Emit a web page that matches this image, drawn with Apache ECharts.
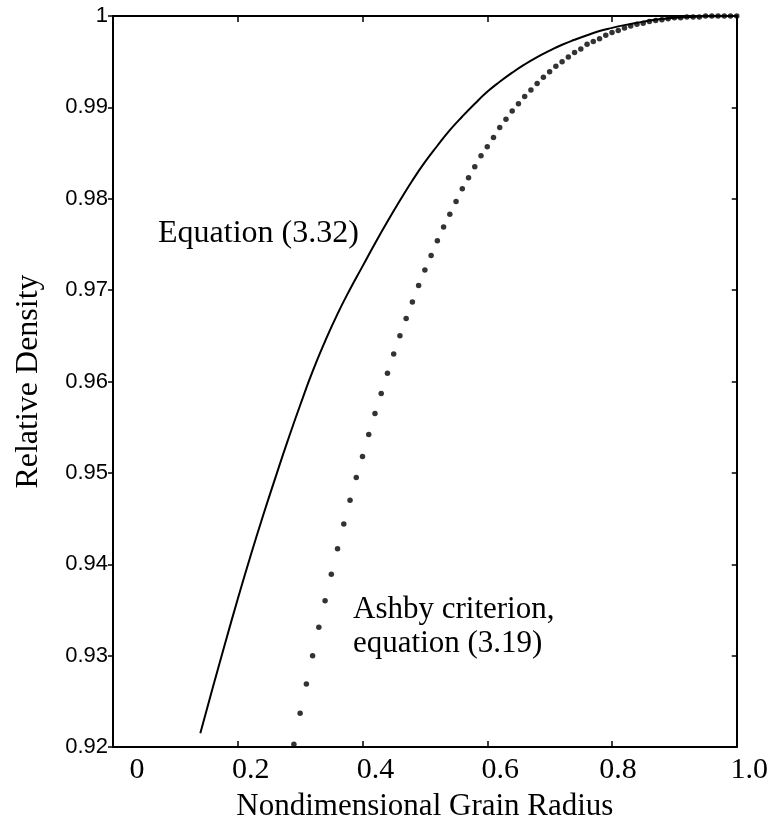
<!DOCTYPE html>
<html>
<head>
<meta charset="utf-8">
<script src="https://cdn.jsdelivr.net/npm/echarts@6/dist/echarts.min.js"></script>
<style>
html,body{margin:0;padding:0;background:#fff;}
#chart{width:771px;height:827px;}
</style>
</head>
<body>
<div id="chart"></div>
<script>
// ---- data ----
var eq332X = [0.14,0.16,0.18,0.20,0.22,0.24,0.26,0.28,0.30,0.32,0.34,0.36,0.38,0.40,0.42,0.44,0.46,0.48,0.50,0.52,0.54,0.56,0.58,0.60,0.62,0.64,0.66,0.68,0.70,0.72,0.74,0.76,0.78,0.80,0.82,0.84,0.86,0.88,0.90,0.92,0.95,1.00];
var eq332Y = [0.9215,0.9265,0.9314,0.9362,0.9408,0.9452,0.9494,0.9535,0.9574,0.9611,0.9644,0.9674,0.9701,0.9726,0.9751,0.9775,0.9798,0.9820,0.9840,0.9858,0.9875,0.9890,0.9904,0.9917,0.9928,0.9938,0.9947,0.9955,0.9962,0.99685,0.9974,0.9979,0.99835,0.9987,0.9990,0.99925,0.9995,0.99968,0.9998,0.99988,0.99997,1.0000];

var ashbyX = [0.29,0.30,0.31,0.32,0.33,0.34,0.35,0.36,0.37,0.38,0.39,0.40,0.41,0.42,0.43,0.44,0.45,0.46,0.47,0.48,0.49,0.50,0.51,0.52,0.53,0.54,0.55,0.56,0.57,0.58,0.59,0.60,0.61,0.62,0.63,0.64,0.65,0.66,0.67,0.68,0.69,0.70,0.71,0.72,0.73,0.74,0.75,0.76,0.77,0.78,0.79,0.80,0.81,0.82,0.83,0.84,0.85,0.86,0.87,0.88,0.89,0.90,0.91,0.92,0.93,0.94,0.95,0.96,0.97,0.98,0.99,1.00];
var ashbyY = [0.9203,0.9237,0.9269,0.9300,0.9331,0.9360,0.9389,0.9417,0.9444,0.9470,0.9495,0.9518,0.9542,0.9565,0.9587,0.9609,0.9630,0.9650,0.9669,0.9687,0.9705,0.9722,0.9738,0.9754,0.9769,0.9783,0.9797,0.9811,0.9823,0.9835,0.9847,0.9857,0.9867,0.9878,0.9887,0.9896,0.9904,0.9912,0.9919,0.9926,0.9933,0.9939,0.9945,0.9950,0.9955,0.9960,0.9964,0.9969,0.9972,0.9975,0.9979,0.9982,0.9984,0.9987,0.9989,0.9991,0.9992,0.9994,0.9995,0.9996,0.9997,0.9998,0.9998,0.9999,0.9999,0.9999,1.0000,1.0000,1.0000,1.0000,1.0000,1.0000];

var xTickLabels = ['0','0.2','0.4','0.6','0.8','1.0'];
var yTicks = [0.92,0.93,0.94,0.95,0.96,0.97,0.98,0.99,1];
var yTickLabels = ['0.92','0.93','0.94','0.95','0.96','0.97','0.98','0.99','1'];

var xAxisTitle = 'Nondimensional Grain Radius';
var yAxisTitle = 'Relative Density';
var label332 = 'Equation (3.32)';
var labelAshby = ['Ashby criterion,', 'equation (3.19)'];

// ---- build ----
function zip(a, b){ return a.map(function(v,i){ return [v, b[i]]; }); }

var SERIF = '"Liberation Serif","Times New Roman",serif';
var SANS = '"Liberation Sans",Arial,Helvetica,sans-serif';
var INK = '#000';

var chart = echarts.init(document.getElementById('chart'), null, {renderer:'canvas'});

var xLabelRich = {
  s0: {fontFamily:SERIF, fontSize:30, color:INK, padding:[0,0,0,48]},
  s1: {fontFamily:SERIF, fontSize:30, color:INK, padding:[0,0,0,25]},
  s2: {fontFamily:SERIF, fontSize:30, color:INK, padding:[0,0,0,12]},
  s3: {fontFamily:SERIF, fontSize:30, color:INK, padding:[0,0,0,26]}
};

chart.setOption({
  backgroundColor:'#fff',
  animation:false,
  grid:{left:113, right:34, top:16, bottom:73, containLabel:false},
  xAxis:[{
    type:'value', min:0, max:1, interval:0.2, position:'bottom',
    axisLine:{show:true, onZero:false, lineStyle:{color:INK, width:2}},
    axisTick:{show:true, inside:true, length:6, lineStyle:{color:INK, width:1.5}},
    splitLine:{show:false},
    axisLabel:{
      margin:8, showMinLabel:true, showMaxLabel:true,
      formatter:function(v){
        var i = Math.round(v/0.2);
        var t = xTickLabels[i];
        var k = i===0 ? 's0' : (i===4 ? 's2' : (i===5 ? 's1' : 's3'));
        return '{'+k+'|'+t+'}';
      },
      rich:xLabelRich
    },
    name:xAxisTitle, nameLocation:'middle', nameGap:44,
    nameTextStyle:{fontFamily:SERIF, fontSize:31, color:INK}
  },{
    type:'value', min:0, max:1, interval:0.2, position:'top',
    axisLine:{show:true, onZero:false, lineStyle:{color:INK, width:2}},
    axisTick:{show:true, inside:true, length:6, lineStyle:{color:INK, width:1.5}},
    axisLabel:{show:false}, splitLine:{show:false}
  }],
  yAxis:[{
    type:'value', min:0.92, max:1, interval:0.01, position:'left',
    axisLine:{show:true, onZero:false, lineStyle:{color:INK, width:2}},
    axisTick:{show:true, inside:false, length:5, lineStyle:{color:INK, width:1.5}},
    splitLine:{show:false},
    axisLabel:{
      margin:5, color:INK, fontFamily:SANS, fontSize:22,
      formatter:function(v){
        for (var i=0;i<yTicks.length;i++){ if (Math.abs(yTicks[i]-v)<1e-6) return yTickLabels[i]; }
        return '';
      }
    },
    name:yAxisTitle, nameLocation:'middle', nameGap:68, nameRotate:90,
    nameTextStyle:{fontFamily:SERIF, fontSize:32, color:INK}
  },{
    type:'value', min:0.92, max:1, interval:0.01, position:'right',
    axisLine:{show:true, onZero:false, lineStyle:{color:INK, width:2}},
    axisTick:{show:true, inside:true, length:5, lineStyle:{color:INK, width:1.5}},
    axisLabel:{show:false}, splitLine:{show:false}
  }],
  series:[{
    name:label332, type:'line', xAxisIndex:0, yAxisIndex:0,
    data:zip(eq332X, eq332Y), smooth:0.5, showSymbol:false, symbol:'none',
    lineStyle:{color:INK, width:2}, z:3
  },{
    name:labelAshby.join(' '), type:'scatter', xAxisIndex:0, yAxisIndex:0,
    data:zip(ashbyX, ashbyY), symbol:'circle', symbolSize:5.5,
    itemStyle:{color:INK}, z:4
  }],
  graphic:[
    {type:'text', left:158, top:218, style:{text:label332, font:'32px '+SERIF, fill:INK}},
    {type:'text', left:353, top:594, style:{text:labelAshby[0], font:'31px '+SERIF, fill:INK}},
    {type:'text', left:353, top:628, style:{text:labelAshby[1], font:'31px '+SERIF, fill:INK}}
  ]
});
</script>
</body>
</html>
